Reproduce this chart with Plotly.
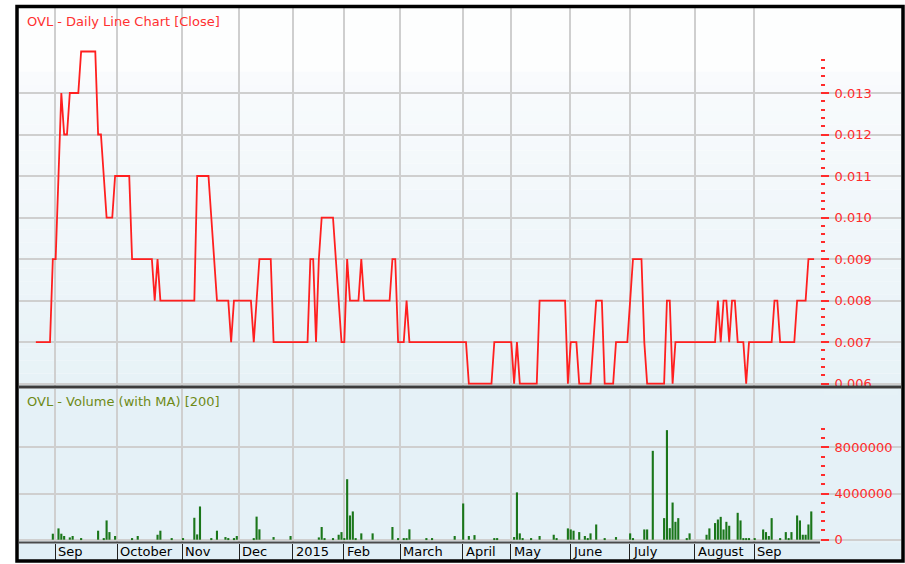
import plotly.graph_objects as go

# ---------------- data ----------------
# Daily closing price of OVL, one list per month (trading days only)
close_2014_08 = [0.007, 0.007, 0.007, 0.007, 0.007, 0.007, 0.009]
close_2014_09 = [0.009, 0.011, 0.013, 0.012, 0.012, 0.013, 0.013, 0.013, 0.013, 0.014, 0.014,
                 0.014, 0.014, 0.014, 0.014, 0.012, 0.012, 0.011, 0.010, 0.010, 0.010, 0.011]
close_2014_10 = [0.011, 0.011, 0.011, 0.011, 0.011, 0.009, 0.009, 0.009, 0.009, 0.009, 0.009, 0.009,
                 0.009, 0.008, 0.009, 0.008, 0.008, 0.008, 0.008, 0.008, 0.008, 0.008, 0.008]
close_2014_11 = [0.008, 0.008, 0.008, 0.008, 0.008, 0.011, 0.011, 0.011, 0.011, 0.011,
                 0.010, 0.009, 0.008, 0.008, 0.008, 0.008, 0.008, 0.007, 0.008, 0.008]
close_2014_12 = [0.008, 0.008, 0.008, 0.008, 0.008, 0.007, 0.008, 0.009, 0.009, 0.009,
                 0.009, 0.009, 0.007, 0.007, 0.007, 0.007, 0.007, 0.007, 0.007]
close_2015_01 = [0.007, 0.007, 0.007, 0.007, 0.007, 0.007, 0.009, 0.009, 0.007,
                 0.009, 0.010, 0.010, 0.010, 0.010, 0.010, 0.009, 0.008, 0.007]
close_2015_02 = [0.007, 0.009, 0.008, 0.008, 0.008, 0.008, 0.009, 0.008, 0.008, 0.008,
                 0.008, 0.008, 0.008, 0.008, 0.008, 0.008, 0.008, 0.009, 0.009, 0.007]
close_2015_03 = [0.007, 0.007, 0.008, 0.007, 0.007, 0.007, 0.007, 0.007, 0.007, 0.007, 0.007,
                 0.007, 0.007, 0.007, 0.007, 0.007, 0.007, 0.007, 0.007, 0.007, 0.007, 0.007]
close_2015_04 = [0.007, 0.007, 0.006, 0.006, 0.006, 0.006, 0.006, 0.006, 0.006, 0.006, 0.006,
                 0.007, 0.007, 0.007, 0.007, 0.007, 0.007]
close_2015_05 = [0.007, 0.006, 0.007, 0.006, 0.006, 0.006, 0.006, 0.006, 0.006, 0.006, 0.008,
                 0.008, 0.008, 0.008, 0.008, 0.008, 0.008, 0.008, 0.008, 0.008, 0.006]
close_2015_06 = [0.007, 0.007, 0.007, 0.006, 0.006, 0.006, 0.006, 0.006, 0.007, 0.008, 0.008,
                 0.008, 0.006, 0.006, 0.006, 0.006, 0.007, 0.007, 0.007, 0.007, 0.007]
close_2015_07 = [0.008, 0.009, 0.009, 0.009, 0.009, 0.007, 0.006, 0.006, 0.006, 0.006, 0.006, 0.006,
                 0.006, 0.008, 0.008, 0.006, 0.007, 0.007, 0.007, 0.007, 0.007, 0.007, 0.007]
close_2015_08 = [0.007, 0.007, 0.007, 0.007, 0.007, 0.007, 0.007, 0.007, 0.008, 0.007, 0.008,
                 0.008, 0.007, 0.008, 0.008, 0.007, 0.007, 0.007, 0.006, 0.007, 0.007]
close_2015_09 = [0.007, 0.007, 0.007, 0.007, 0.007, 0.007, 0.007, 0.008, 0.008, 0.007, 0.007,
                 0.007, 0.007, 0.007, 0.007, 0.008, 0.008, 0.008, 0.008, 0.009, 0.009, 0.009]

# Daily volume (shares), same trading days
vol_2014_08 = [0, 0, 0, 0, 0, 0, 520000]
vol_2014_09 = [0, 980000, 520000, 320000, 0, 200000, 320000, 0, 0, 60000, 0,
               0, 0, 0, 0, 780000, 0, 100000, 1670000, 660000, 0, 320000]
vol_2014_10 = [0, 0, 0, 0, 0, 120000, 0, 320000, 0, 0, 0, 0,
               0, 0, 430000, 780000, 0, 0, 0, 60000, 0, 0, 0]
vol_2014_11 = [60000, 0, 0, 0, 1900000, 460000, 2880000, 0, 0, 0,
               60000, 0, 780000, 0, 0, 230000, 60000, 0, 120000, 320000]
vol_2014_12 = [0, 0, 0, 0, 0, 60000, 2000000, 900000, 0, 0,
               0, 0, 230000, 0, 0, 0, 0, 0, 320000]
vol_2015_01 = [0, 0, 0, 0, 0, 0, 0, 0, 0,
               200000, 1100000, 60000, 0, 0, 60000, 0, 430000, 660000]
vol_2015_02 = [60000, 5240000, 2100000, 2450000, 100000, 0, 550000, 0, 0, 0,
               550000, 0, 0, 0, 0, 0, 0, 1100000, 0, 60000]
vol_2015_03 = [0, 60000, 60000, 900000, 0, 0, 0, 0, 0, 60000, 0,
               60000, 0, 0, 0, 0, 0, 0, 0, 320000, 0, 0]
vol_2015_04 = [3140000, 0, 320000, 0, 400000, 0, 0, 0, 0, 0, 0,
               60000, 60000, 0, 0, 0, 0]
vol_2015_05 = [0, 230000, 4100000, 550000, 120000, 0, 0, 120000, 0, 0, 320000,
               0, 0, 0, 0, 430000, 60000, 0, 0, 0, 980000]
vol_2015_06 = [890000, 780000, 0, 660000, 0, 320000, 120000, 550000, 0, 1320000, 0,
               0, 60000, 0, 0, 0, 230000, 0, 0, 0, 0]
vol_2015_07 = [550000, 120000, 0, 0, 0, 890000, 890000, 0, 7700000, 0, 0, 0,
               1870000, 9490000, 1000000, 3220000, 1550000, 1870000, 0, 0, 120000, 550000, 0]
vol_2015_08 = [0, 0, 0, 0, 430000, 980000, 0, 1440000, 1750000, 1980000, 890000,
               1550000, 1210000, 0, 0, 2330000, 1670000, 120000, 120000, 120000, 0]
vol_2015_09 = [60000, 0, 0, 890000, 660000, 320000, 1870000, 0, 0, 60000, 0,
               660000, 60000, 660000, 0, 2100000, 1670000, 430000, 430000, 1320000, 2450000, 0]

# Month labels of the date strip (first, partial month has no label)
month_labels = ["", "Sep", "October", "Nov", "Dec", "2015", "Feb", "March",
                "April", "May", "June", "July", "August", "Sep"]

price_grid = [0.006, 0.007, 0.008, 0.009, 0.010, 0.011, 0.012, 0.013]
volume_grid = [0, 4000000, 8000000]

month_close = [close_2014_08, close_2014_09, close_2014_10, close_2014_11, close_2014_12,
               close_2015_01, close_2015_02, close_2015_03, close_2015_04, close_2015_05,
               close_2015_06, close_2015_07, close_2015_08, close_2015_09]
month_vol = [vol_2014_08, vol_2014_09, vol_2014_10, vol_2014_11, vol_2014_12,
             vol_2015_01, vol_2015_02, vol_2015_03, vol_2015_04, vol_2015_05,
             vol_2015_06, vol_2015_07, vol_2015_08, vol_2015_09]

close = [v for m in month_close for v in m]
volume = [v for m in month_vol for v in m]
day = list(range(len(close)))

month_start = []
n = 0
for m in month_close:
    month_start.append(n)
    n += len(m)
month_edge = [s - 0.2 for s in month_start[1:]]
edge_labels = month_labels[1:]

# ---------------- geometry / styling ----------------
W, H = 905, 564
ML, MR, MT, MB = 19, 4, 8, 19
PW, PH = W - ML - MR, H - MT - MB


def py(row):
    return (H - MB - row) / PH


def pxp(col):
    return (col - ML) / PW


X0, DX = 35.85, 2.83
x_range = [(ML - X0) / DX, (W - MR - X0) / DX]


def price_at(row):
    return 0.006 + (385 - row) / 41670.0


def price_row(p):
    return 385 - (p - 0.006) * 41670.0


def vol_at(row):
    return (541.7 - row) * 4e6 / 46.35


def vol_row(v):
    return 541.7 - v * 46.35 / 4e6


RED = "#ff2b2b"
GRID = "#cfcfcf"
FONT = "DejaVu Sans"
AX_COL = pxp(820)

fig = go.Figure()

fig.add_trace(go.Scatter(x=day, y=close, mode="lines", xaxis="x", yaxis="y",
                         line=dict(color="#ff1f1f", width=1.8), hoverinfo="skip"))
fig.add_trace(go.Bar(x=day, y=volume, xaxis="x2", yaxis="y2", width=0.75,
                     marker=dict(color="#1a761a", line=dict(width=0)), hoverinfo="skip"))
# carriers for the right-hand scales
fig.add_trace(go.Scatter(x=[0], y=[0.01], xaxis="x3", yaxis="y3", mode="markers",
                         marker=dict(opacity=0), hoverinfo="skip"))
fig.add_trace(go.Scatter(x=[0], y=[1e6], xaxis="x3", yaxis="y4", mode="markers",
                         marker=dict(opacity=0), hoverinfo="skip"))

p_rng = [0.005995, 0.013805]
v_rng = [-10000, 9610000]

shapes = []
# background gradients
shapes.append(dict(type="rect", xref="paper", yref="paper", x0=0, x1=1, y0=py(72), y1=py(8),
                   fillcolor="#fdfefe", line=dict(width=0), layer="below"))
nb = 24
top, bot = 72, 388
c0, c1 = (249, 251, 253), (231, 242, 247)
for k in range(nb):
    r0 = top + (bot - top) * k / nb
    r1 = top + (bot - top) * (k + 1) / nb
    t = (k + 0.5) / nb
    col = tuple(round(c0[j] + (c1[j] - c0[j]) * t) for j in range(3))
    shapes.append(dict(type="rect", xref="paper", yref="paper", x0=0, x1=1, y0=py(r1), y1=py(r0),
                       fillcolor="rgb(%d,%d,%d)" % col, line=dict(width=0), layer="below"))
shapes.append(dict(type="rect", xref="paper", yref="paper", x0=0, x1=1, y0=py(545), y1=py(390),
                   fillcolor="#e5f1f7", line=dict(width=0), layer="below"))
shapes.append(dict(type="rect", xref="paper", yref="paper", x0=0, x1=1, y0=py(563), y1=py(545),
                   fillcolor="#e1eff6", line=dict(width=0), layer="below"))
# panel separator and cover below it
shapes.append(dict(type="rect", xref="paper", yref="paper", x0=pxp(824), x1=pxp(898),
                   y0=py(397), y1=py(388), fillcolor="#e6f2f7", line=dict(width=0), layer="above"))
shapes.append(dict(type="line", xref="paper", yref="paper", x0=0, x1=1, y0=py(388.5), y1=py(388.5),
                   line=dict(color="#3c3c3c", width=3), layer="above"))
# date-strip top line
shapes.append(dict(type="line", xref="paper", yref="paper", x0=0, x1=AX_COL, y0=py(544.5), y1=py(544.5),
                   line=dict(color="#4a4a4a", width=2), layer="above"))
# outer frame
shapes.append(dict(type="rect", xref="paper", yref="paper", x0=pxp(17), x1=pxp(903),
                   y0=py(563), y1=py(6.5), line=dict(color="black", width=3.5), layer="above"))

annotations = [
    dict(text="OVL - Daily Line Chart [Close]", xref="paper", yref="paper", x=pxp(25), y=py(22),
         xanchor="left", yanchor="middle", showarrow=False, font=dict(family=FONT, size=13, color="#ff3030")),
    dict(text="OVL - Volume (with MA) [200]", xref="paper", yref="paper", x=pxp(25), y=py(402.5),
         xanchor="left", yanchor="middle", showarrow=False, font=dict(family=FONT, size=13, color="#6e8a16")),
]
for xe, lab in zip(month_edge, edge_labels):
    annotations.append(dict(text=lab, xref="x2", yref="paper", x=xe, y=py(554), xanchor="left",
                            yanchor="middle", xshift=1, showarrow=False,
                            font=dict(family=FONT, size=13, color="black")))

fig.update_layout(
    width=W, height=H, margin=dict(l=ML, r=MR, t=MT, b=MB, pad=0),
    paper_bgcolor="white", plot_bgcolor="rgba(0,0,0,0)", showlegend=False,
    font=dict(family=FONT, size=13),
    xaxis=dict(domain=[0, 1], range=x_range, anchor="y", tickmode="array", tickvals=month_edge,
               showticklabels=False, ticks="", showgrid=True, gridcolor=GRID, gridwidth=1.5,
               zeroline=False, showline=False, fixedrange=True),
    yaxis=dict(domain=[py(388), 1], range=[price_at(388), price_at(8)], anchor="x",
               tickmode="array", tickvals=price_grid, showticklabels=False, ticks="",
               showgrid=True, gridcolor=GRID, gridwidth=1.5, zeroline=False, showline=False),
    xaxis2=dict(domain=[0, 1], range=x_range, anchor="y2", tickmode="array", tickvals=month_edge,
                showticklabels=False, ticks="outside", ticklen=17, tickwidth=1, tickcolor="#202020",
                showgrid=True, gridcolor=GRID, gridwidth=1.5, zeroline=False, showline=False),
    yaxis2=dict(domain=[0, py(390.5)], range=[vol_at(545), vol_at(390.5)], anchor="x2",
                tickmode="array", tickvals=volume_grid, showticklabels=False, ticks="",
                showgrid=True, gridcolor=GRID, gridwidth=1.5, zeroline=False, showline=False),
    xaxis3=dict(domain=[0, 1], range=x_range, anchor="y3", visible=False),
    yaxis3=dict(domain=[py(price_row(p_rng[0])), py(price_row(p_rng[1]))], range=p_rng,
                anchor="free", position=AX_COL, side="right", tickmode="linear", tick0=0.006,
                dtick=0.001, tickformat=".3f", ticks="outside", ticklen=8, tickwidth=2, tickcolor=RED,
                ticklabelstandoff=3,
                tickfont=dict(family=FONT, size=13, color=RED), showgrid=False, zeroline=False,
                showline=False, automargin=False,
                minor=dict(tickmode="linear", tick0=0.006, dtick=0.0002, ticks="outside", ticklen=4,
                           tickwidth=2, tickcolor=RED, showgrid=False)),
    yaxis4=dict(domain=[py(vol_row(v_rng[0])), py(vol_row(v_rng[1]))], range=v_rng,
                anchor="free", position=AX_COL, side="right", tickmode="linear", tick0=0,
                dtick=4000000, tickformat="d", ticks="outside", ticklen=8, tickwidth=2, tickcolor=RED,
                ticklabelstandoff=3,
                tickfont=dict(family=FONT, size=13, color=RED), showgrid=False, zeroline=False,
                showline=False, automargin=False,
                minor=dict(tickmode="linear", tick0=0, dtick=800000, ticks="outside", ticklen=4,
                           tickwidth=2, tickcolor=RED, showgrid=False)),
    shapes=shapes, annotations=annotations,
)

fig.write_html("out.html", config={"displayModeBar": False},
               post_script="document.body.style.margin='0';document.body.style.padding='0';"
                           "document.body.style.overflow='hidden';")
